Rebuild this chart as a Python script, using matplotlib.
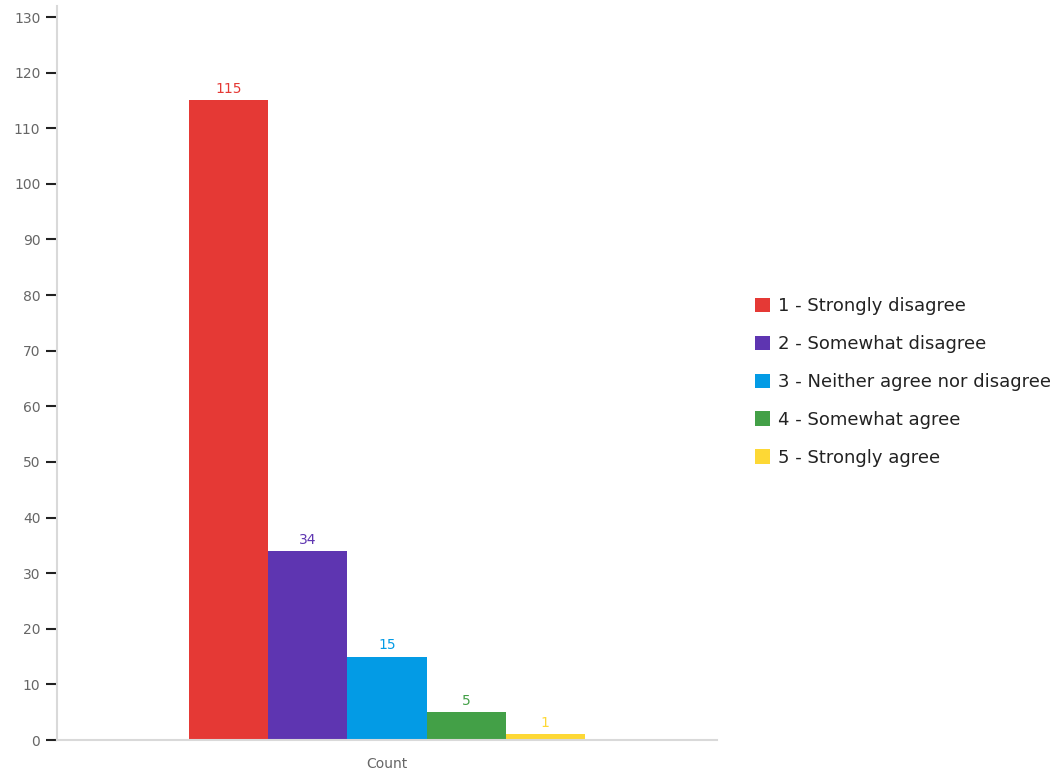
import matplotlib
matplotlib.use("Agg")
import matplotlib.pyplot as plt
from matplotlib.patches import Patch

categories = ["1 - Strongly disagree", "2 - Somewhat disagree",
              "3 - Neither agree nor disagree", "4 - Somewhat agree",
              "5 - Strongly agree"]
values = [115, 34, 15, 5, 1]
colors = ["#E53935", "#5E35B1", "#039BE5", "#43A047", "#FDD835"]
group_label = "Count"
yticks = list(range(0, 131, 10))

plt.rcParams['font.family'] = ['DejaVu Sans']

fig = plt.figure(figsize=(10.58, 7.70), dpi=100)
ax = fig.add_axes([57/1058, 30/770, 660/1058, (764.1-30)/770])

n = len(values)
xs = [i - (n - 1) / 2 for i in range(n)]
ax.bar(xs, values, width=1.0, color=colors, linewidth=0)
for x, v, c in zip(xs, values, colors):
    ax.annotate(str(v), (x, v), xytext=(0, 3), textcoords="offset points",
                ha="center", va="bottom", color=c, fontsize=10)

ax.set_xlim(-4.177, 4.177)
ax.set_ylim(0, 132)
ax.set_yticks(yticks)
ax.set_xticks([0])
ax.set_xticklabels([group_label])
ax.tick_params(axis='x', length=0, pad=12, labelsize=10, labelcolor="#666666")
ax.tick_params(axis='y', length=8, width=1.5, color="#222222", pad=4,
               labelsize=10, labelcolor="#666666")
for s in ["top", "right"]:
    ax.spines[s].set_visible(False)
for s in ["left", "bottom"]:
    ax.spines[s].set_color("#d9d9d9")
    ax.spines[s].set_linewidth(1.5)

handles = [Patch(facecolor=c, edgecolor="none") for c in colors]
fig.legend(handles, categories, loc="center left",
           bbox_to_anchor=(755/1058, (770-382)/770), frameon=False,
           borderpad=0, borderaxespad=0, handlelength=0.85, handleheight=0.85,
           handletextpad=0.45, labelspacing=1.1, fontsize=13,
           labelcolor="#222222")

fig.savefig("out.png", dpi=100)
